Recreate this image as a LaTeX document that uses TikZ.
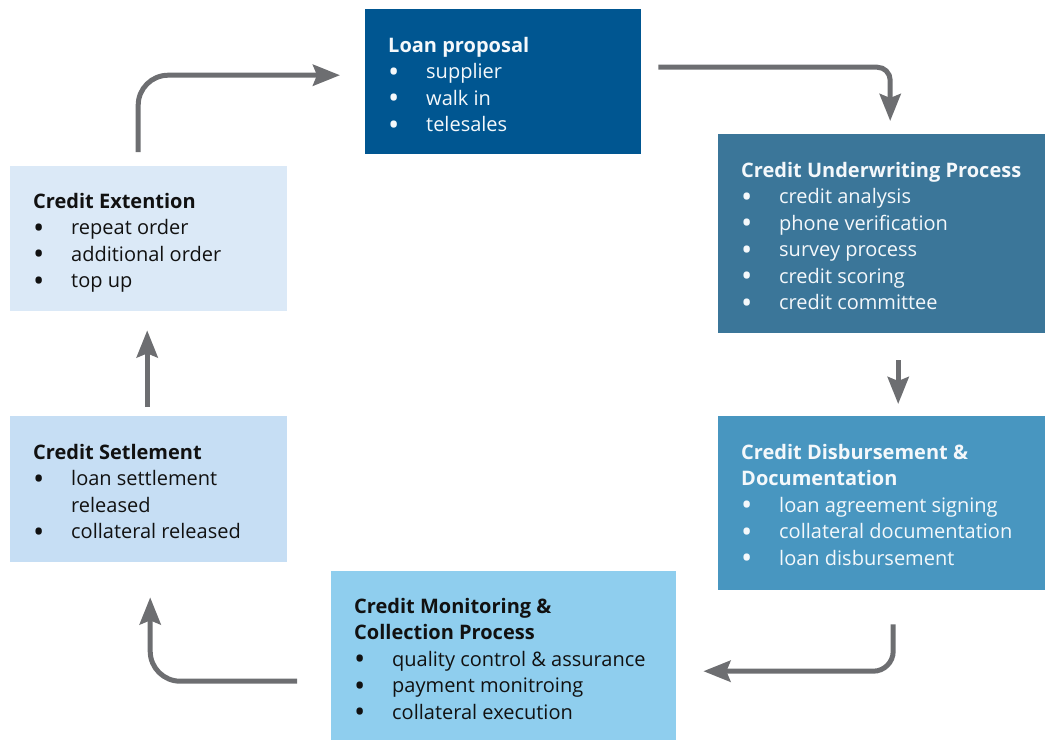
\documentclass[tikz,border=0pt]{standalone}
\usepackage{fontspec}
\setmainfont{Open Sans}
\usetikzlibrary{arrows.meta,calc}
\definecolor{cLoan}{HTML}{005691}
\definecolor{cUnder}{HTML}{3B7699}
\definecolor{cDisb}{HTML}{4896C0}
\definecolor{cMon}{HTML}{8FCEEE}
\definecolor{cSet}{HTML}{C6DEF4}
\definecolor{cExt}{HTML}{DBE9F7}
\definecolor{cArrow}{HTML}{6D6E71}
\definecolor{cDark}{HTML}{111111}
\definecolor{cLight}{HTML}{F4F8FB}
% bullet list rows: one bullet column 38pt wide, then the item text
\newcommand{\bul}{\raisebox{-3.6pt}{\scalebox{1.5}{•}}}
\newcommand{\itm}[1]{\makebox[38pt][l]{\bul}#1\\}
\newcommand{\cnt}[1]{\hspace*{38pt}#1\\}
\newenvironment{boxlist}{\begin{tabular}[t]{@{}l@{}}}{\end{tabular}}
\tikzset{
  box/.style={rectangle, inner sep=0pt, anchor=north west, draw=none},
  txt/.style={inner sep=0pt, anchor=base west,
    font=\fontsize{20}{26.5}\selectfont},
  arr/.style={draw=cArrow, line width=5pt,
    -{Stealth[length=27pt,width=21pt,inset=4pt]}}
}
\begin{document}
\begin{tikzpicture}[x=1pt,y=-1pt]
\useasboundingbox (0,0) rectangle (1045,740);
% process boxes
\node[box, fill=cLoan, minimum width=276pt, minimum height=145pt] (loan) at (365,9) {};
\node[box, fill=cUnder, minimum width=327pt, minimum height=199pt] (under) at (718,134) {};
\node[box, fill=cDisb, minimum width=327pt, minimum height=174pt] (disb) at (718,416) {};
\node[box, fill=cMon, minimum width=345pt, minimum height=169pt] (mon) at (331,571) {};
\node[box, fill=cSet, minimum width=277pt, minimum height=146pt] (sett) at (10,416) {};
\node[box, fill=cExt, minimum width=277pt, minimum height=145pt] (ext) at (10,166) {};
% box texts
\node[txt, text=cLight] (loanT) at (388,52) {\begin{boxlist}\textbf{Loan proposal}\\
  \itm{supplier}\itm{walk in}\itm{telesales}\end{boxlist}};
\node[txt, text=cLight] (underT) at (741,177) {\begin{boxlist}\textbf{Credit Underwriting Process}\\
  \itm{credit analysis}\itm{phone verification}\itm{survey process}\itm{credit scoring}\itm{credit committee}\end{boxlist}};
\node[txt, text=cLight] (disbT) at (741,459) {\begin{boxlist}\textbf{Credit Disbursement \&}\\\textbf{Documentation}\\
  \itm{loan agreement signing}\itm{collateral documentation}\itm{loan disbursement}\end{boxlist}};
\node[txt, text=cDark] (monT) at (354,613) {\begin{boxlist}\textbf{Credit Monitoring \&}\\\textbf{Collection Process}\\
  \itm{quality control \& assurance}\itm{payment monitroing}\itm{collateral execution}\end{boxlist}};
\node[txt, text=cDark] (setT) at (33,459) {\begin{boxlist}\textbf{Credit Setlement}\\
  \itm{loan settlement}\cnt{released}\itm{collateral released}\end{boxlist}};
\node[txt, text=cDark] (extT) at (33,208) {\begin{boxlist}\textbf{Credit Extention}\\
  \itm{repeat order}\itm{additional order}\itm{top up}\end{boxlist}};
% connectors
\draw[arr, rounded corners=30pt] ([xshift=-10.5pt,yshift=14pt]ext.north) |- ([xshift=-25pt,yshift=6.5pt]loan.west);
\draw[arr, rounded corners=13pt] ([xshift=17pt,yshift=14.5pt]loan.east) -| ([xshift=8.5pt,yshift=13pt]under.north);
\draw[arr] ([xshift=16.5pt,yshift=-27pt]under.south) -- ([xshift=16.5pt,yshift=12pt]disb.north);
\draw[arr, rounded corners=20pt] ([xshift=11.5pt,yshift=-34pt]disb.south) |- ([xshift=27pt,yshift=-15.5pt]mon.east);
\draw[arr, rounded corners=30pt] ([xshift=-34pt,yshift=-25.5pt]mon.west) -| ([xshift=1.5pt,yshift=-35pt]sett.south);
\draw[arr] ([xshift=-1.5pt,yshift=9pt]sett.north) -- ([xshift=-1.5pt,yshift=-19pt]ext.south);
\end{tikzpicture}
\end{document}
